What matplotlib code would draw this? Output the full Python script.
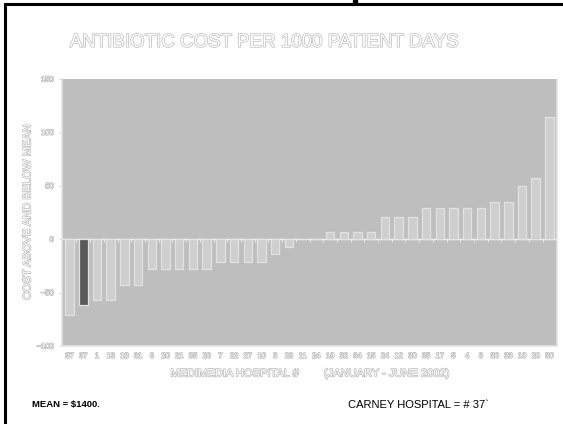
import numpy as np
import matplotlib.pyplot as plt
import matplotlib.patheffects as pe

# hospital numbers along the x axis, sorted by cost difference
hospitals = ['37', '37', '1', '13', '18', '31', '6', '20', '21', '35', '20', '7',
             '22', '27', '10', '3', '29', '11', '24', '19', '32', '34', '15', '24',
             '12', '30', '35', '17', '5', '4', '8', '30', '33', '10', '20', '30']
# cost above / below the mean per 1000 patient days
diff = [-71, -62, -57, -57, -43, -43, -28, -28, -28, -28, -28, -21, -21, -21, -21, -14, -7,
        0, 0,
        7, 7, 7, 7, 21, 21, 21, 29, 29, 29, 29, 29, 35, 35, 50, 57, 114]
carney_idx = 1

outline = [pe.withStroke(linewidth=0.9, foreground='#b4b4b4')]
plt.rcParams['font.family'] = 'Liberation Sans'

fig = plt.figure(figsize=(5.63, 4.24), dpi=100)
fig.patch.set_facecolor('white')

# frame around the slide
fig.add_artist(plt.Line2D([5/563, 5/563], [0, 1 - 4/424], color='black', lw=2.2))
fig.add_artist(plt.Line2D([5/563, 1], [1 - 4/424, 1 - 4/424], color='black', lw=2.2))
fig.add_artist(plt.Rectangle((353/563, 1 - 4/424), 4/563, 4/424, color='black'))

ax = fig.add_axes([62/563, 78/424, 495/563, 267/424])
ax.set_facecolor('#bebebe')

x = np.arange(len(diff))
colors = ['#cfcfcf'] * len(diff)
colors[carney_idx] = '#595959'
ax.bar(x, diff, width=0.62, color=colors, edgecolor='#e2e2e2', linewidth=0.9, zorder=3)

ax.axhline(0, color='#f2f2f2', lw=1.0, zorder=2)
ax.vlines(x[:-1] + 0.5, -2.5, 0, color='#e6e6e6', lw=0.8, zorder=2)

ax.set_xlim(-0.55, len(diff) - 0.45)
ax.set_ylim(-100, 150)
ax.set_yticks([-100, -50, 0, 50, 100, 150])
ax.set_xticks(x)
ax.set_xticklabels(hospitals)
ax.tick_params(axis='x', length=0, pad=5, labelsize=5.5, labelcolor='white')
ax.tick_params(axis='y', length=2, color='#d8d8d8', pad=4, labelsize=5.5, labelcolor='white')
for lbl in ax.get_xticklabels() + ax.get_yticklabels():
    lbl.set_path_effects(outline)

for side in ['left', 'bottom', 'right']:
    ax.spines[side].set_color('#e4e4e4')
    ax.spines[side].set_linewidth(1.2)
ax.spines['top'].set_visible(False)

ax.set_ylabel('COST ABOVE AND BELOW MEAN', fontsize=8, color='white',
              path_effects=outline, labelpad=3)

fig.text(0.469, 0.9, 'ANTIBIOTIC COST PER 1000 PATIENT DAYS', ha='center', va='center',
         fontsize=13.5, color='white', path_effects=outline)
fig.text(0.416, 0.119, 'MEDIMEDIA HOSPITAL #', ha='center', va='center',
         fontsize=8, color='white', path_effects=outline)
fig.text(0.687, 0.119, '(JANUARY - JUNE 2002)', ha='center', va='center',
         fontsize=8, color='white', path_effects=outline)

fig.text(32/563, 1 - 405/424, 'MEAN = $1400.', ha='left', va='center',
         fontsize=6.8, fontweight='bold', color='black')
fig.text(348/563, 1 - 405/424, 'CARNEY HOSPITAL = # 37`', ha='left', va='center',
         fontsize=8, color='black')

fig.savefig('out.png', dpi=100)
